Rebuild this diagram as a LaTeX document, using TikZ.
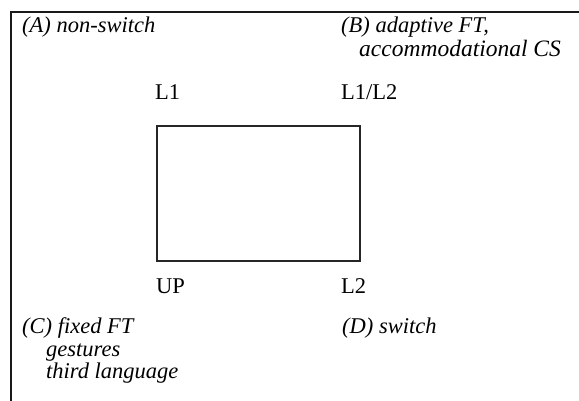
\documentclass[tikz,border=0pt]{standalone}
\usepackage{fontspec}
\setmainfont{Liberation Serif}
\begin{document}
\begin{tikzpicture}[x=1pt,y=-1pt,
  lbl/.style={anchor=base west,inner sep=0pt,font=\fontsize{22.5}{25}\selectfont},
  ilbl/.style={lbl,font=\fontsize{22.5}{25}\selectfont\itshape},
  frameline/.style={line width=1.7pt,draw=black!90},
  boxline/.style={line width=1.7pt,draw=black!85}]
\useasboundingbox (0,0) rectangle (579,401);
\coordinate (ftr) at (579,12);
\coordinate (ftl) at (11,12);
\coordinate (fbl) at (11,401);
\draw[frameline] (ftr) -- (ftl) -- (fbl);
\node[boxline,draw,minimum width=203pt,minimum height=135pt,inner sep=0pt,anchor=north west] (box) at (156,125) {};
\node[ilbl] (A) at (22,33) {(A) non-switch};
\node[ilbl] (B1) at (341,33) {(B) adaptive FT,};
\node[ilbl,font=\fontsize{23.5}{25}\selectfont\itshape] (B2) at (359,57) {accommodational CS};
\node[lbl] (L1) at (155,100) {L1};
\node[lbl] (L1L2) at (341,100) {L1/L2};
\node[lbl] (UP) at (156,294) {UP};
\node[lbl] (L2) at (341,294) {L2};
\node[ilbl] (C1) at (22,333) {(C) fixed FT};
\node[ilbl] (C2) at (46,356) {gestures};
\node[ilbl] (C3) at (46,378) {third language};
\node[ilbl] (D) at (342,333) {(D) switch};
\end{tikzpicture}
\end{document}
